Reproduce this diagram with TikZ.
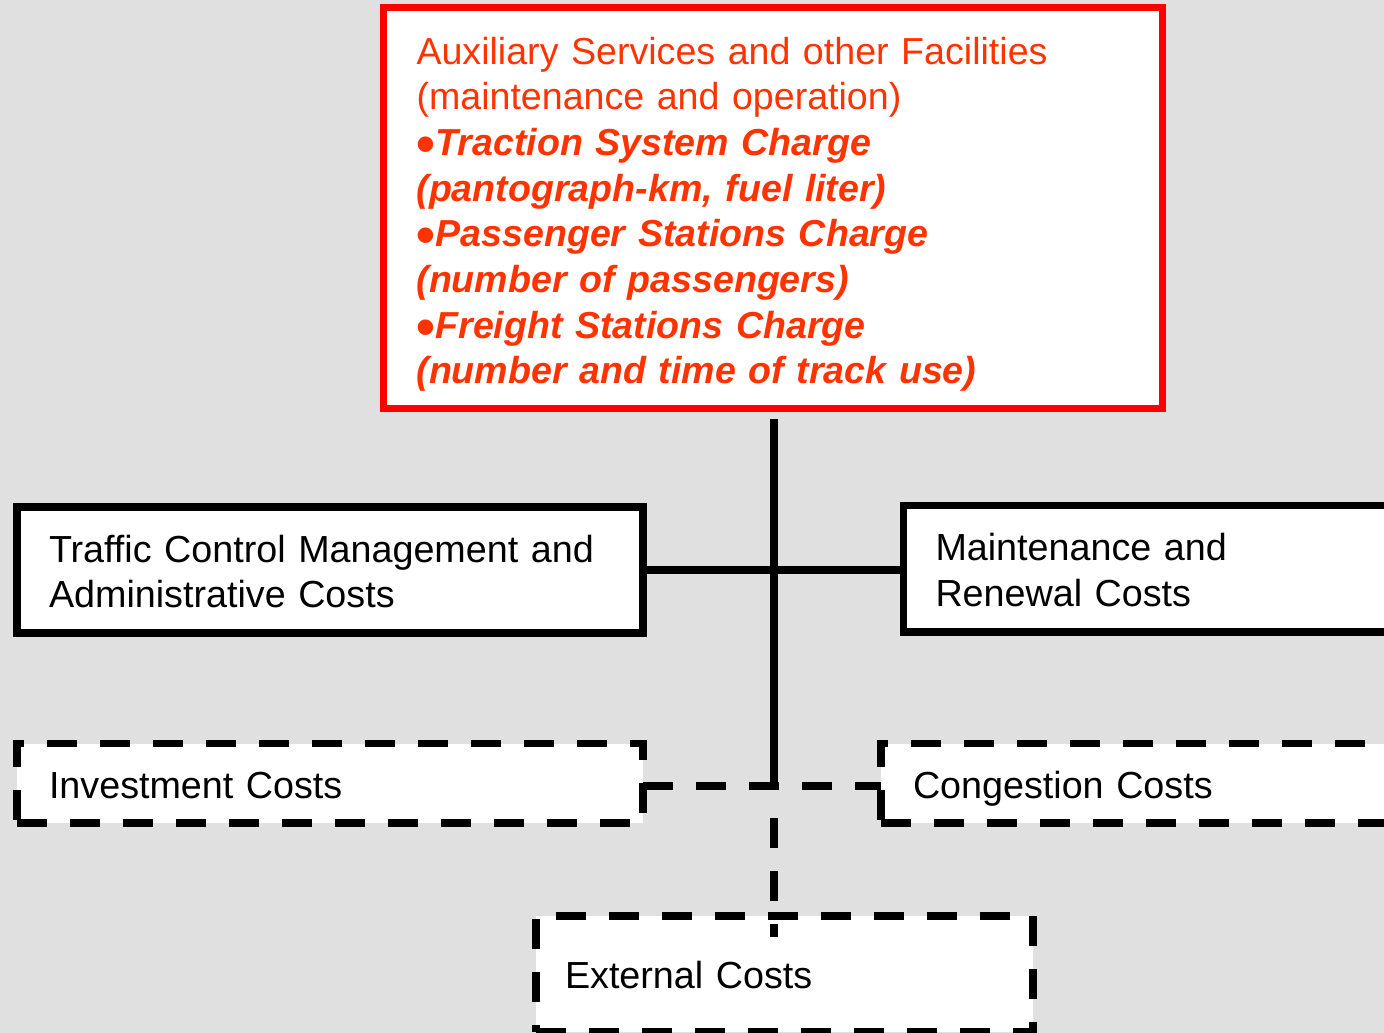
\documentclass[tikz,border=0pt]{standalone}
\usepackage{fontspec}
\setmainfont{Liberation Sans}
\definecolor{bggray}{RGB}{224,224,224}
\definecolor{framered}{RGB}{255,0,0}
\definecolor{textred}{RGB}{255,51,0}
% charge line: enlarged upright bullet followed by bold italic text
\newcommand{\chargeitem}[1]{\raisebox{-7pt}{\fontsize{54}{54}\selectfont\textbf{•}}\textbf{\textit{#1}}}
\begin{document}
\begin{tikzpicture}[x=1pt,y=-1pt,
  box/.style={rectangle, draw=black, line width=7.5pt, fill=white,
    inner ysep=0pt, outer sep=0pt, align=left, text=black,
    text height=29.5pt, text depth=45.5pt,
    font=\fontsize{37.7}{45.3}\selectfont},
  onerow/.style={text height=29.5pt, text depth=0pt},
  dbox/.style={box, onerow, dash pattern=on 30pt off 23pt},
  redbox/.style={box, draw=framered, text=textred,
    text depth=317.5pt, font=\fontsize{37.6}{45.7}\selectfont},
  link/.style={draw=black, line width=7.5pt},
  dlink/.style={link, dash pattern=on 30pt off 23pt},
]
% canvas
\clip (0,0) rectangle (1384,1033);
\fill[bggray] (0,0) rectangle (1384,1033);

% top box: auxiliary services
\node[redbox, inner xsep=33pt, text width=713pt, minimum height=401pt] (aux) at (773,208)
  {Auxiliary Services and other Facilities\\
   (maintenance and operation)\\
   \chargeitem{Traction System Charge}\\
   \textbf{\textit{(pantograph-km, fuel liter)}}\\
   \chargeitem{Passenger Stations Charge}\\
   \textbf{\textit{(number of passengers)}}\\
   \chargeitem{Freight Stations Charge}\\
   \textbf{\textit{(number and time of track use)}}};

% solid cost boxes
\node[box, inner xsep=32pt, text width=562pt, minimum height=126pt] (traffic) at (330,570)
  {Traffic Control Management and\\ Administrative Costs};
\node[box, inner xsep=32pt, text width=456pt, minimum height=126.5pt] (maint) at (1163.5,568.75)
  {Maintenance and\\ Renewal Costs};

% dashed cost boxes
\node[dbox, inner xsep=32pt, text width=562pt, minimum height=79.5pt] (invest) at (330,783.25)
  {Investment Costs};
\node[dbox, inner xsep=32pt, text width=456pt, minimum height=79.5pt] (cong) at (1141,783.25)
  {Congestion Costs};
\node[dbox, inner xsep=29pt, text width=439pt, minimum height=116pt] (ext) at (784.5,974)
  {External Costs};

% junction points on the trunk line
\coordinate (trunk) at ([yshift=-10.5pt]aux.south -| 774,0);
\coordinate (hub) at (774,570);
\coordinate (dhub) at (774,786);

% connectors
\draw[link] (trunk) -- ([yshift=-4pt]dhub);
\draw[link] (traffic.east |- hub) -- (maint.west |- hub);
\draw[dlink] (invest.east |- dhub) -- (cong.west |- dhub);
\draw[dlink, dash phase=30pt] ([yshift=-9pt]dhub) -- ([yshift=-21pt]ext.north -| dhub);
\end{tikzpicture}
\end{document}
